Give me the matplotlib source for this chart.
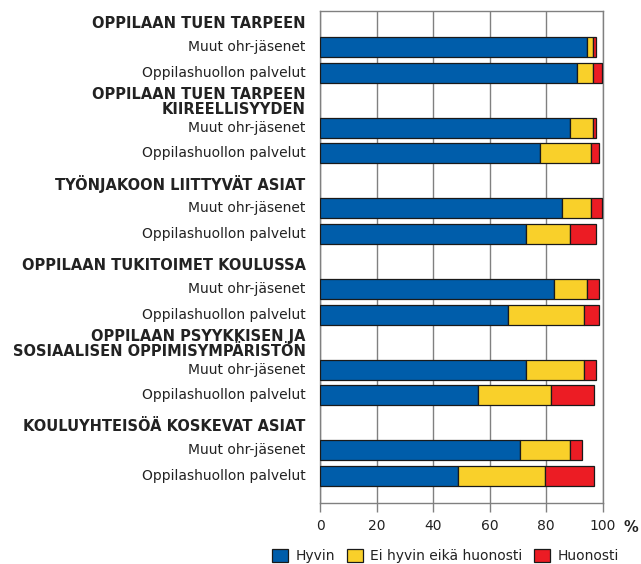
import matplotlib.pyplot as plt
from matplotlib.patches import Patch

# aiheet (ryhmät) ja vastaajaryhmät
groups = [
    'OPPILAAN TUEN TARPEEN',
    'OPPILAAN TUEN TARPEEN\nKIIREELLISYYDEN',
    'TYÖNJAKOON LIITTYVÄT ASIAT',
    'OPPILAAN TUKITOIMET KOULUSSA',
    'OPPILAAN PSYYKKISEN JA\nSOSIAALISEN OPPIMISYMPÄRISTÖN',
    'KOULUYHTEISÖÄ KOSKEVAT ASIAT',
]
rows = ['Muut ohr-jäsenet', 'Oppilashuollon palvelut']

# prosentit, järjestyksessä ryhmä kerrallaan (Muut, Oppilashuolto)
hyvin = [94.5, 90.8, 88.5, 77.8, 85.4, 72.8, 82.7, 66.6, 72.8, 55.7, 70.7, 48.6]
ei_hyvin = [2.2, 5.9, 8.2, 17.9, 10.3, 15.7, 11.8, 26.9, 20.7, 26.0, 17.8, 31.0]
huonosti = [0.8, 3.1, 0.8, 2.8, 4.1, 9.1, 4.0, 5.0, 4.1, 15.1, 4.0, 17.2]

series_labels = ['Hyvin', 'Ei hyvin eikä huonosti', 'Huonosti']
colors = ['#005DAA', '#F9D02A', '#EC1C24']
xticks = [0, 20, 40, 60, 80, 100]

GRAY = '#808080'
TEXT = '#222222'

if __name__ == '__main__':
    plt.rcParams['font.family'] = ['DejaVu Sans']
    plt.rcParams['font.size'] = 10

    fig = plt.figure(figsize=(6.41, 5.64), dpi=100)
    ax = fig.add_axes([0.4997, 0.1082, 0.4407, 0.8723])

    # asettelu pikseliyksiköissä
    first, group_step, pair_step, bar_h = 47.3, 80.6, 25.5, 20
    ypos = [first + g * group_step + i * pair_step
            for g in range(len(groups)) for i in range(len(rows))]

    left = [0] * len(ypos)
    for vals, c, lab in zip([hyvin, ei_hyvin, huonosti], colors, series_labels):
        ax.barh(ypos, vals, left=left, height=bar_h, color=c,
                edgecolor='#1a1a1a', linewidth=0.9, label=lab, zorder=3)
        left = [l + v for l, v in zip(left, vals)]

    ax.set_ylim(503, 11)
    ax.set_xlim(0, 100)
    ax.set_yticks([])
    ax.set_xticks(xticks)
    ax.tick_params(axis='x', direction='out', length=6.5, width=1,
                   color=GRAY, pad=5, labelcolor=TEXT, labelsize=10)
    ax.grid(axis='x', color=GRAY, linewidth=1)
    ax.set_axisbelow(True)
    for s in ax.spines.values():
        s.set_color(GRAY)
        s.set_linewidth(1)

    # rivien nimet
    for k, y in enumerate(ypos):
        ax.annotate(rows[k % 2], xy=(0, y), xycoords=('axes fraction', 'data'),
                    xytext=(-10.5, 0), textcoords='offset points',
                    ha='right', va='center', color=TEXT)

    # ryhmien otsikot
    for g, name in enumerate(groups):
        y0 = ypos[2 * g]
        nlines = name.count('\n') + 1
        yc = y0 - 24 - 2 * (nlines - 1)
        ax.annotate(name, xy=(0, yc), xycoords=('axes fraction', 'data'),
                    xytext=(-10.5, 0), textcoords='offset points',
                    ha='right', va='center', ma='right', color=TEXT,
                    fontweight='bold', fontsize=10.5, linespacing=1.0)

    ax.annotate('%', xy=(1, 0), xycoords='axes fraction',
                xytext=(20, -18), textcoords='offset points',
                ha='center', va='center', fontweight='bold', fontsize=10.5,
                color=TEXT)

    handles = [Patch(facecolor=c, edgecolor='#1a1a1a', linewidth=0.9, label=l)
               for c, l in zip(colors, series_labels)]
    fig.legend(handles=handles, loc='center', bbox_to_anchor=(0.695, 0.0142),
               ncol=3, frameon=False, handlelength=1.15, handleheight=1.15,
               handletextpad=0.55, columnspacing=0.8, fontsize=10,
               labelcolor=TEXT, borderpad=0, borderaxespad=0)

    plt.savefig('out.png', dpi=100)
